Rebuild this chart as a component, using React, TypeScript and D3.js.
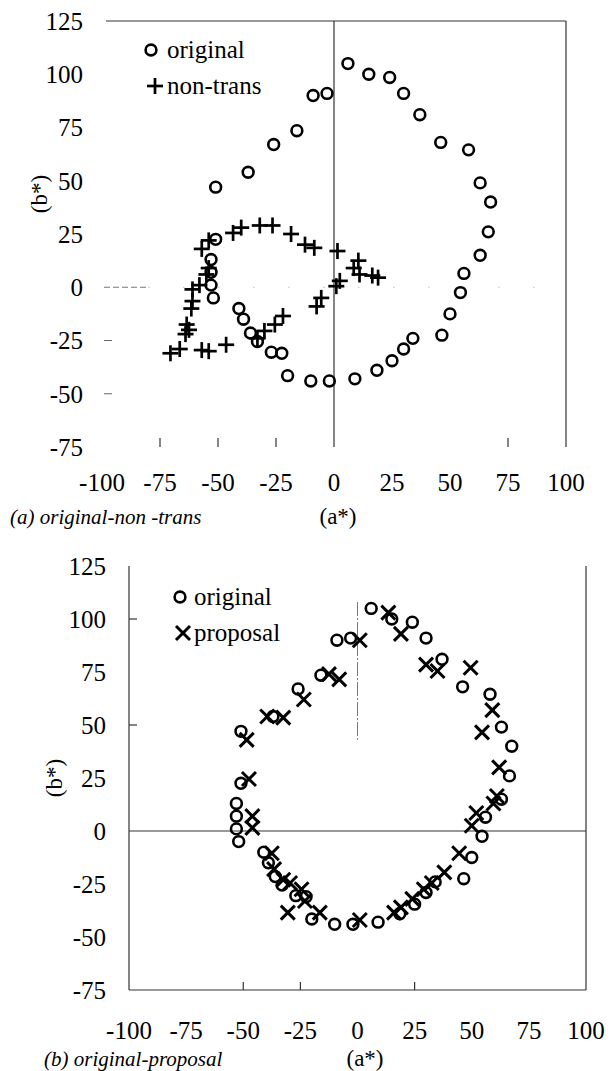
import React from "react";
import * as d3 from "d3";

// ---- data (a*, b*) ----
const origA = [6, 15, 24, 30, 37, 46, 58, 63, 67.5, 66.5, 63, 56, 54.5, 50, 46.5, 34, 30, 25, 18.5, 9, -2, -10, -20, -22.5, -27, -33, -36, -39, -41, -52, -53, -53, -53, -51, -51, -37, -26, -16, -9, -3];
const origB = [105, 100, 98.5, 91, 81, 68, 64.5, 49, 40, 26, 15, 6.5, -2.5, -12.5, -22.5, -24, -29, -34.5, -39, -43, -44, -44, -41.5, -31, -30.5, -25.5, -21.5, -15, -10, -5, 1, 7, 13, 22.5, 47, 54, 67, 73.5, 90, 91];

const nonTransA = [-70.5, -66.5, -57, -54, -46.5, -63.5, -62.5, -64, -61.5, -61, -61, -58, -55, -54, -57, -54, -43.5, -40, -32, -26.5, -18.5, -12.5, -8.5, 1.5, 10.5, 8.5, 11, 16.5, 19, 2.5, 1, -5.5, -7.5, -22, -25.5, -30, -33];
const nonTransB = [-31, -29, -29.5, -30, -27, -17.5, -20, -22, -10, -6.5, -1, 1, 6, 9, 18, 22, 25.5, 28, 29, 29, 25, 20, 18.5, 17, 12.5, 9, 6, 5.5, 4.5, 3, 0.5, -5, -9, -13.5, -17.5, -20.5, -24];

const proposalA = [-48.5, -47.5, -46, -46, -39.5, -32.5, -23.5, -12.5, -8, 1, 13.5, 19, 30, 35, 49.5, 59, 54.5, 62, 61, 59.5, 52, 50, 44.5, 38, 32.5, 29, 24, 19, 16, 1, -37.5, -36.5, -32.5, -29.5, -24.5, -23, -30.5, -16.5];
const proposalB = [43, 24.5, 7, 1.5, 54, 53.5, 62, 74, 71.5, 90, 103, 93, 78.5, 75.5, 77, 57, 46.5, 30, 16.5, 13, 8.5, 2.5, -10.5, -19.5, -24.5, -27.5, -32, -36, -38.5, -42, -10.5, -18, -23, -24.5, -27.5, -33, -38.5, -38.5];

const xTicks = [-100, -75, -50, -25, 0, 25, 50, 75, 100];
const yTicks = [125, 100, 75, 50, 25, 0, -25, -50, -75];

const FONT = '"Liberation Serif", "Times New Roman", serif';
const INK = "#000";
const AX = "#333";

function Circle({ cx, cy }: { cx: number; cy: number }) {
  return <circle cx={cx} cy={cy} r={5.4} fill="none" stroke={INK} strokeWidth={2.6} />;
}
function Plus({ cx, cy }: { cx: number; cy: number }) {
  const s = 8;
  return (
    <g stroke={INK} strokeWidth={2.7}>
      <line x1={cx - s} y1={cy} x2={cx + s} y2={cy} />
      <line x1={cx} y1={cy - s} x2={cx} y2={cy + s} />
    </g>
  );
}
function Cross({ cx, cy }: { cx: number; cy: number }) {
  const s = 7;
  return (
    <g stroke={INK} strokeWidth={3}>
      <line x1={cx - s} y1={cy - s} x2={cx + s} y2={cy + s} />
      <line x1={cx - s} y1={cy + s} x2={cx + s} y2={cy - s} />
    </g>
  );
}

const T = (props: any) => <text {...props} style={{ fontFamily: FONT }} />;

export default function App() {
  // top chart scales
  const xA = d3.scaleLinear().domain([-100, 100]).range([102, 566]);
  const yA = d3.scaleLinear().domain([-75, 125]).range([447, 21]);
  // bottom chart scales
  const xB = d3.scaleLinear().domain([-100, 100]).range([129, 586]);
  const yB = d3.scaleLinear().domain([-75, 125]).range([990, 566]);

  const tickFont = 25;

  return (
    <svg
      width={613}
      height={1071}
      style={{ position: "absolute", left: 0, top: 0, background: "#fff", fontFamily: FONT }}
    >
      <rect x={0} y={0} width={613} height={1071} fill="#fff" />

      {/* ================= TOP CHART ================= */}
      <g>
        <line x1={xA(-100) + 4} y1={yA(125)} x2={xA(100)} y2={yA(125)} stroke={AX} strokeWidth={1.2} />
        <line x1={xA(100)} y1={yA(125)} x2={xA(100)} y2={yA(-75)} stroke={AX} strokeWidth={1.2} />
        <line x1={xA(0)} y1={yA(125)} x2={xA(0)} y2={yA(-75)} stroke={AX} strokeWidth={1.2} />
        <line x1={xA(-100) + 2} y1={yA(0)} x2={xA(-80)} y2={yA(0)} stroke="#777" strokeWidth={1} strokeDasharray="6,3" />
        <line x1={xA(-80)} y1={yA(0)} x2={xA(100)} y2={yA(0)} stroke="#999" strokeWidth={1} strokeDasharray="1,34" />
        {[-25, -50].map((v) => (
          <line key={v} x1={xA(-100) + 2} y1={yA(v)} x2={xA(-100) + 10} y2={yA(v)} stroke="#666" strokeWidth={1} />
        ))}
        {[-75, -50, -25, 75].map((v) => (
          <line key={v} x1={xA(v)} y1={yA(-75) - 9} x2={xA(v)} y2={yA(-75)} stroke={AX} strokeWidth={1.2} />
        ))}

        {yTicks.map((v) => (
          <T key={v} x={83} y={yA(v)} dy="0.35em" textAnchor="end" fontSize={tickFont}>
            {v}
          </T>
        ))}
        {xTicks.map((v) => (
          <T key={v} x={xA(v)} y={491} textAnchor="middle" fontSize={tickFont}>
            {v}
          </T>
        ))}
        <T x={338} y={524} textAnchor="middle" fontSize={23}>(a*)</T>
        <T x={10} y={524} fontSize={21} fontStyle="italic">(a) original-non -trans</T>
        <T transform={`translate(47,194) rotate(-90)`} textAnchor="middle" fontSize={23}>(b*)</T>

        {/* legend */}
        <Circle cx={151} cy={50} />
        <T x={167} y={58} fontSize={tickFont}>original</T>
        <Plus cx={155} cy={86} />
        <T x={167} y={94} fontSize={tickFont}>non-trans</T>

        {origA.map((a, i) => (
          <Circle key={"o" + i} cx={xA(a)} cy={yA(origB[i])} />
        ))}
        {nonTransA.map((a, i) => (
          <Plus key={"p" + i} cx={xA(a)} cy={yA(nonTransB[i])} />
        ))}
      </g>

      {/* ================= BOTTOM CHART ================= */}
      <g>
        <line x1={xB(-100)} y1={yB(125)} x2={xB(-100)} y2={yB(-75)} stroke={AX} strokeWidth={1.2} />
        <line x1={xB(100)} y1={yB(125)} x2={xB(100)} y2={yB(-75)} stroke={AX} strokeWidth={1.2} />
        <line x1={xB(-100)} y1={yB(-75)} x2={xB(100)} y2={yB(-75)} stroke={AX} strokeWidth={1.2} />
        <line x1={xB(-100)} y1={yB(0)} x2={xB(100)} y2={yB(0)} stroke={AX} strokeWidth={1.2} />
        <line x1={xB(0)} y1={yB(108)} x2={xB(0)} y2={yB(43)} stroke="#777" strokeWidth={1} strokeDasharray="14,2,2,2" />
        {[100, 50].map((v) => (
          <line key={v} x1={xB(-100)} y1={yB(v)} x2={xB(-100) + 8} y2={yB(v)} stroke={AX} strokeWidth={1.2} />
        ))}
        {[-50, -25, 25].map((v) => (
          <line key={v} x1={xB(v)} y1={yB(-75) - 8} x2={xB(v)} y2={yB(-75)} stroke={AX} strokeWidth={1.2} />
        ))}

        {yTicks.map((v) => (
          <T key={v} x={106} y={yB(v)} dy="0.35em" textAnchor="end" fontSize={tickFont}>
            {v}
          </T>
        ))}
        {xTicks.map((v) => (
          <T key={v} x={xB(v)} y={1039} textAnchor="middle" fontSize={tickFont}>
            {v}
          </T>
        ))}
        <T x={365} y={1066} textAnchor="middle" fontSize={23}>(a*)</T>
        <T x={44} y={1066} fontSize={21} fontStyle="italic">(b) original-proposal</T>
        <T transform={`translate(62,${yB(25)}) rotate(-90)`} textAnchor="middle" fontSize={23}>(b*)</T>

        <Circle cx={180} cy={597} />
        <T x={194} y={605} fontSize={tickFont}>original</T>
        <Cross cx={183} cy={633} />
        <T x={194} y={641} fontSize={tickFont}>proposal</T>

        {origA.map((a, i) => (
          <Circle key={"o" + i} cx={xB(a)} cy={yB(origB[i])} />
        ))}
        {proposalA.map((a, i) => (
          <Cross key={"x" + i} cx={xB(a)} cy={yB(proposalB[i])} />
        ))}
      </g>
    </svg>
  );
}
